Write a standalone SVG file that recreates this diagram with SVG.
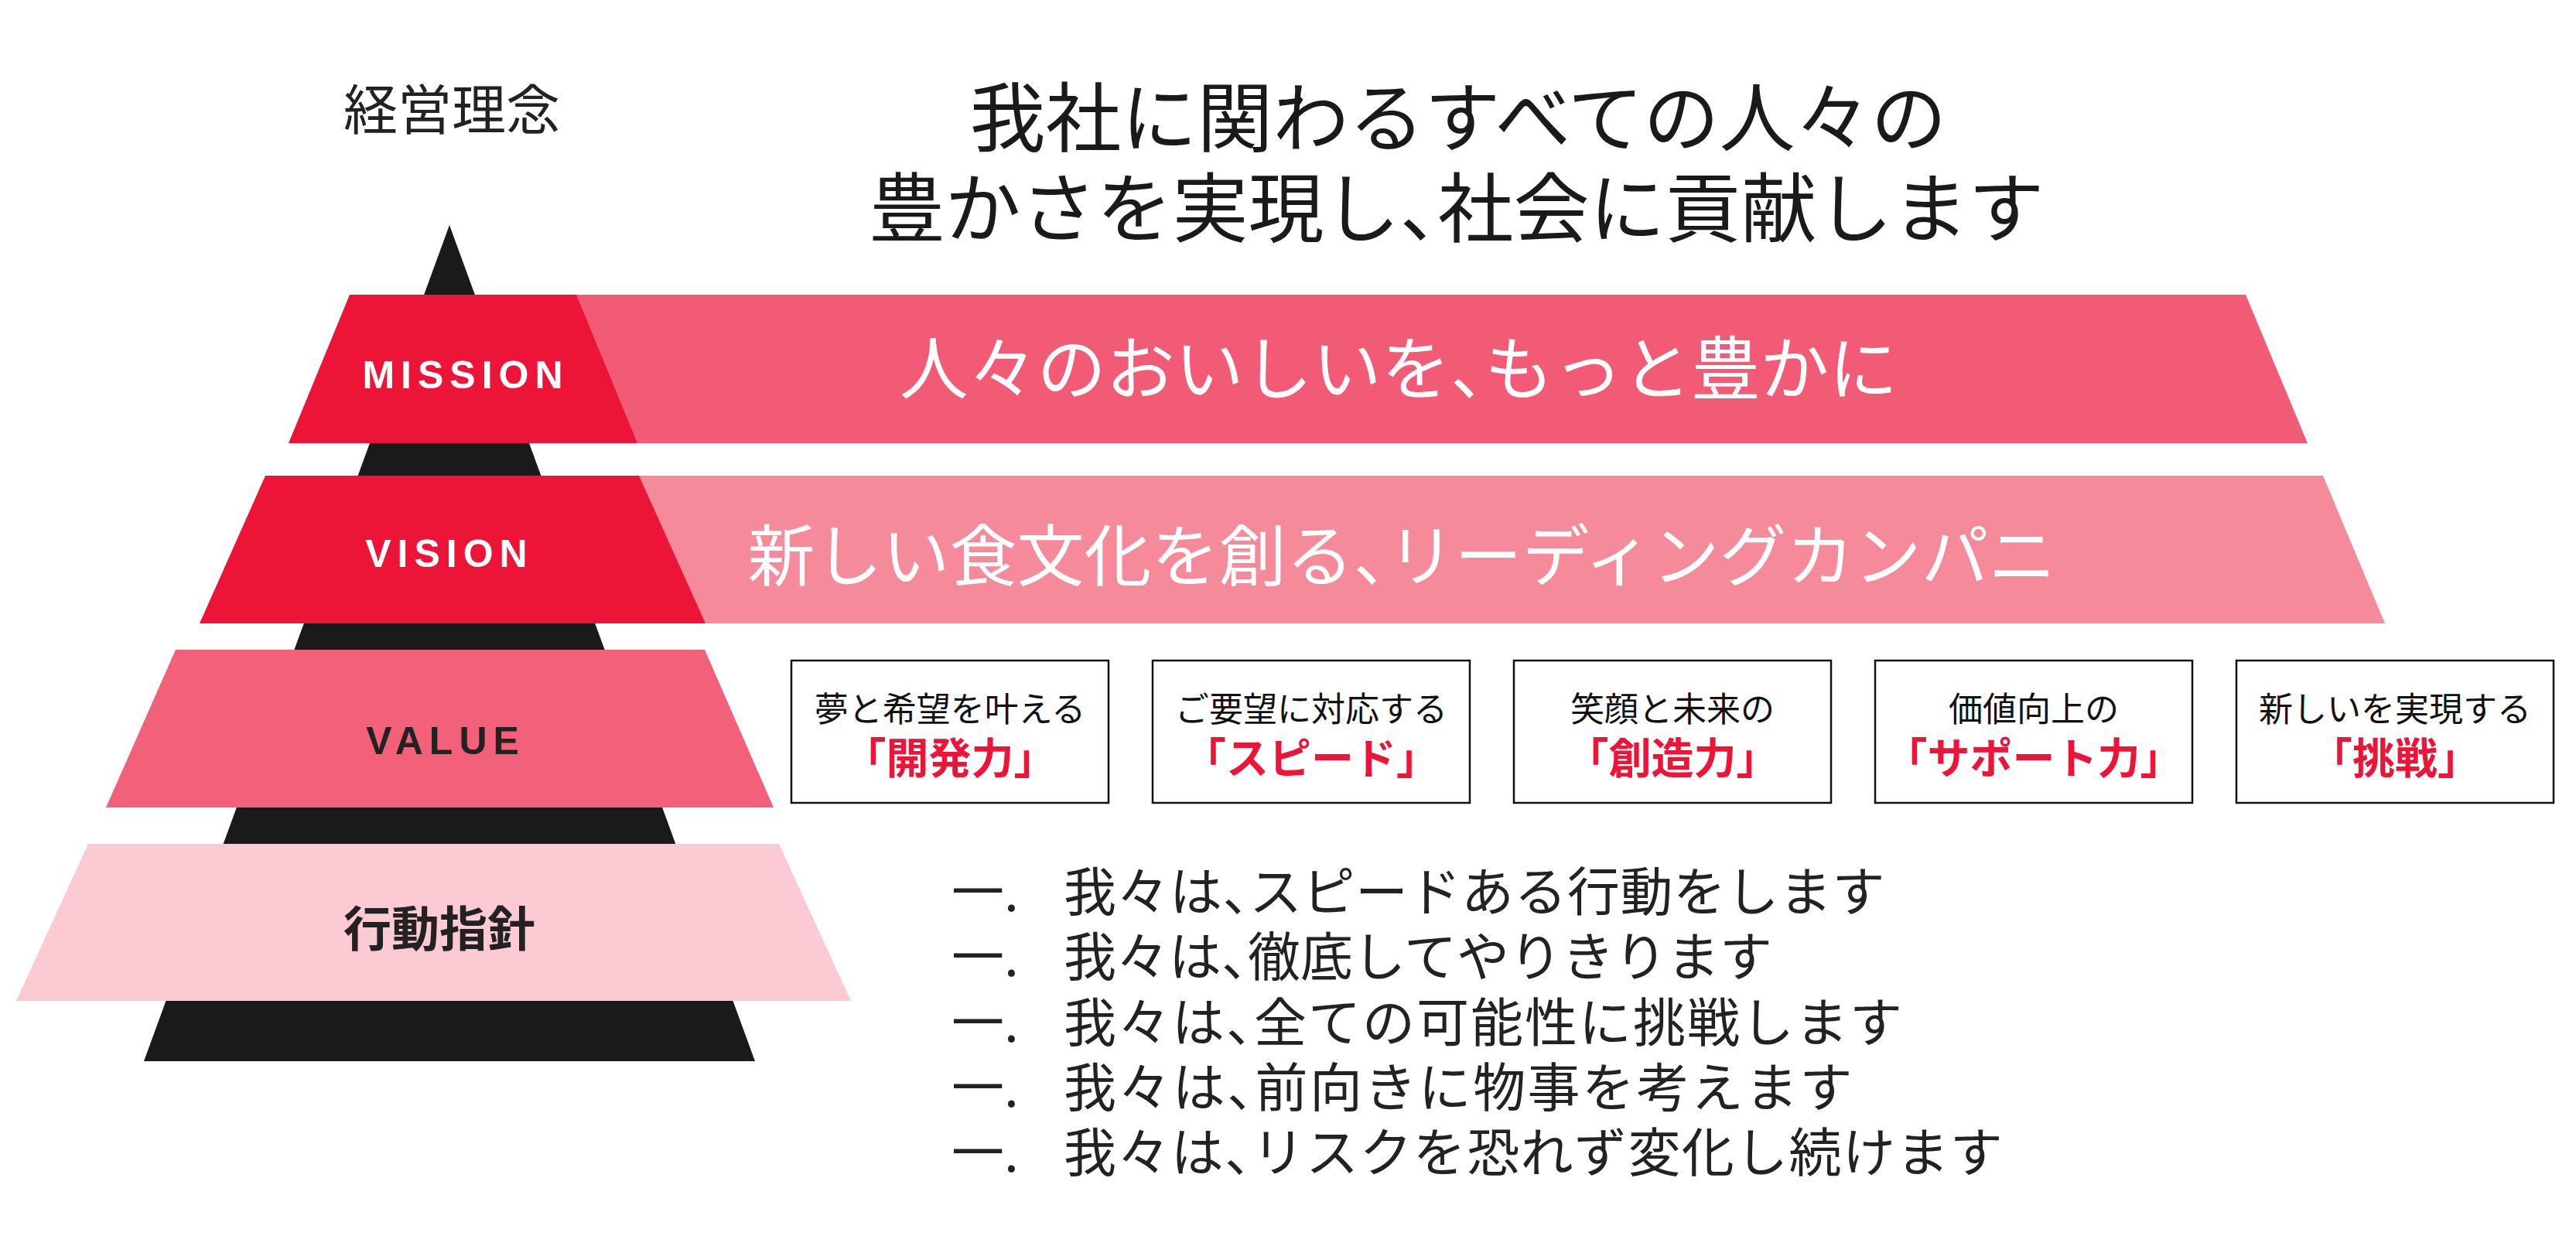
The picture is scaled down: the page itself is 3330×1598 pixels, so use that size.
<svg xmlns="http://www.w3.org/2000/svg" width="3330" height="1598" viewBox="0 0 3330 1598">
<style>
.jp{font-family:"Noto Sans CJK JP","Noto Sans CJK SC",sans-serif;}
.en{font-family:"Liberation Sans",Arial,sans-serif;font-weight:bold;font-size:50px;letter-spacing:8px;}
.dark{fill:#222222;}
.white{fill:#FFFFFF;}
.box{fill:#FFFFFF;stroke:#111111;stroke-width:2.5;}
.b1{font-size:44px;fill:#111111;}
.b2{font-size:55px;font-weight:bold;fill:#EC1537;}
.li{font-size:68px;fill:#222222;}
</style>
<rect x="0" y="0" width="3330" height="1598" fill="#FFFFFF"/>

<g id="title">
<text class="jp dark" x="584" y="168" font-size="70" text-anchor="middle">経営理念</text>
<text class="jp" x="1885" y="188" font-size="98" text-anchor="middle" fill="#1a1a1a">我社に関わるすべての人々の</text>
<text class="jp" x="1883" y="305" font-size="98" text-anchor="middle" fill="#1a1a1a">豊かさを実現し、<tspan dx="-49">社会に貢献します</tspan></text>
</g>

<g id="pyramid">
<polygon points="581,291 976,1372 186,1372" fill="#1A1A1A"/>
</g>

<g id="mission">
<polygon points="650,381 2903,381 2983,573 730,573" fill="#F25B76"/>
<polygon points="452,381 745,381 824,573 373,573" fill="#EC1537"/>
<text class="en white" x="602" y="502" text-anchor="middle">MISSION</text>
<text class="jp white" x="1808" y="509" font-size="89" text-anchor="middle">人々のおいしいを、<tspan dx="-44.5">もっと豊かに</tspan></text>
</g>

<g id="vision">
<polygon points="750,615 3003,615 3083,806 830,806" fill="#F48A9A"/>
<polygon points="343,615 826,615 912,806 258,806" fill="#EC1537"/>
<text class="en white" x="581" y="733" text-anchor="middle">VISION</text>
<text class="jp white" x="1812" y="751" font-size="87" text-anchor="middle">新しい食文化を創る、<tspan dx="-43">リーディングカンパニ</tspan></text>
</g>

<g id="value">
<polygon points="227,840 911,840 1000,1044 137,1044" fill="#F26079"/>
<text class="en dark" x="576" y="975" text-anchor="middle">VALUE</text>
</g>

<g id="value-1">
<rect class="box" x="1023" y="854" width="410" height="184"/>
<text class="jp b1" x="1228" y="933" text-anchor="middle">夢と希望を叶える</text>
<text class="jp b2" x="1228" y="1000" text-anchor="middle">「開発力」</text>
</g>
<g id="value-2">
<rect class="box" x="1490" y="854" width="410" height="184"/>
<text class="jp b1" x="1695" y="933" text-anchor="middle">ご要望に対応する</text>
<text class="jp b2" x="1695" y="1000" text-anchor="middle">「スピード」</text>
</g>
<g id="value-3">
<rect class="box" x="1957" y="854" width="410" height="184"/>
<text class="jp b1" x="2162" y="933" text-anchor="middle">笑顔と未来の</text>
<text class="jp b2" x="2162" y="1000" text-anchor="middle">「創造力」</text>
</g>
<g id="value-4">
<rect class="box" x="2424" y="854" width="410" height="184"/>
<text class="jp b1" x="2629" y="933" text-anchor="middle">価値向上の</text>
<text class="jp b2" x="2629" y="1000" text-anchor="middle">「サポート力」</text>
</g>
<g id="value-5">
<rect class="box" x="2891" y="854" width="410" height="184"/>
<text class="jp b1" x="3096" y="933" text-anchor="middle">新しいを実現する</text>
<text class="jp b2" x="3096" y="1000" text-anchor="middle">「挑戦」</text>
</g>

<g id="guideline">
<polygon points="114,1091 1007,1091 1100,1294 21,1294" fill="#FBCAD3"/>
<text class="jp dark" x="568" y="1224" font-size="62" font-weight="bold" text-anchor="middle">行動指針</text>
</g>

<g id="guideline-list">
<text class="jp li" x="1230" y="1178">一.<tspan x="1375" letter-spacing="0.5">我々は、</tspan><tspan dx="-34" letter-spacing="0.5">スピードある行動をします</tspan></text>
<text class="jp li" x="1230" y="1262">一.<tspan x="1375">我々は、</tspan><tspan dx="-34">徹底してやりきります</tspan></text>
<text class="jp li" x="1230" y="1347">一.<tspan x="1375" letter-spacing="2">我々は、</tspan><tspan dx="-34" letter-spacing="2">全ての可能性に挑戦します</tspan></text>
<text class="jp li" x="1230" y="1431">一.<tspan x="1375" letter-spacing="2.4">我々は、</tspan><tspan dx="-34" letter-spacing="2.4">前向きに物事を考えます</tspan></text>
<text class="jp li" x="1230" y="1515">一.<tspan x="1375" letter-spacing="1.4">我々は、</tspan><tspan dx="-34" letter-spacing="1.4">リスクを恐れず変化し続けます</tspan></text>
</g>

<g id="connectors"></g>
</svg>
